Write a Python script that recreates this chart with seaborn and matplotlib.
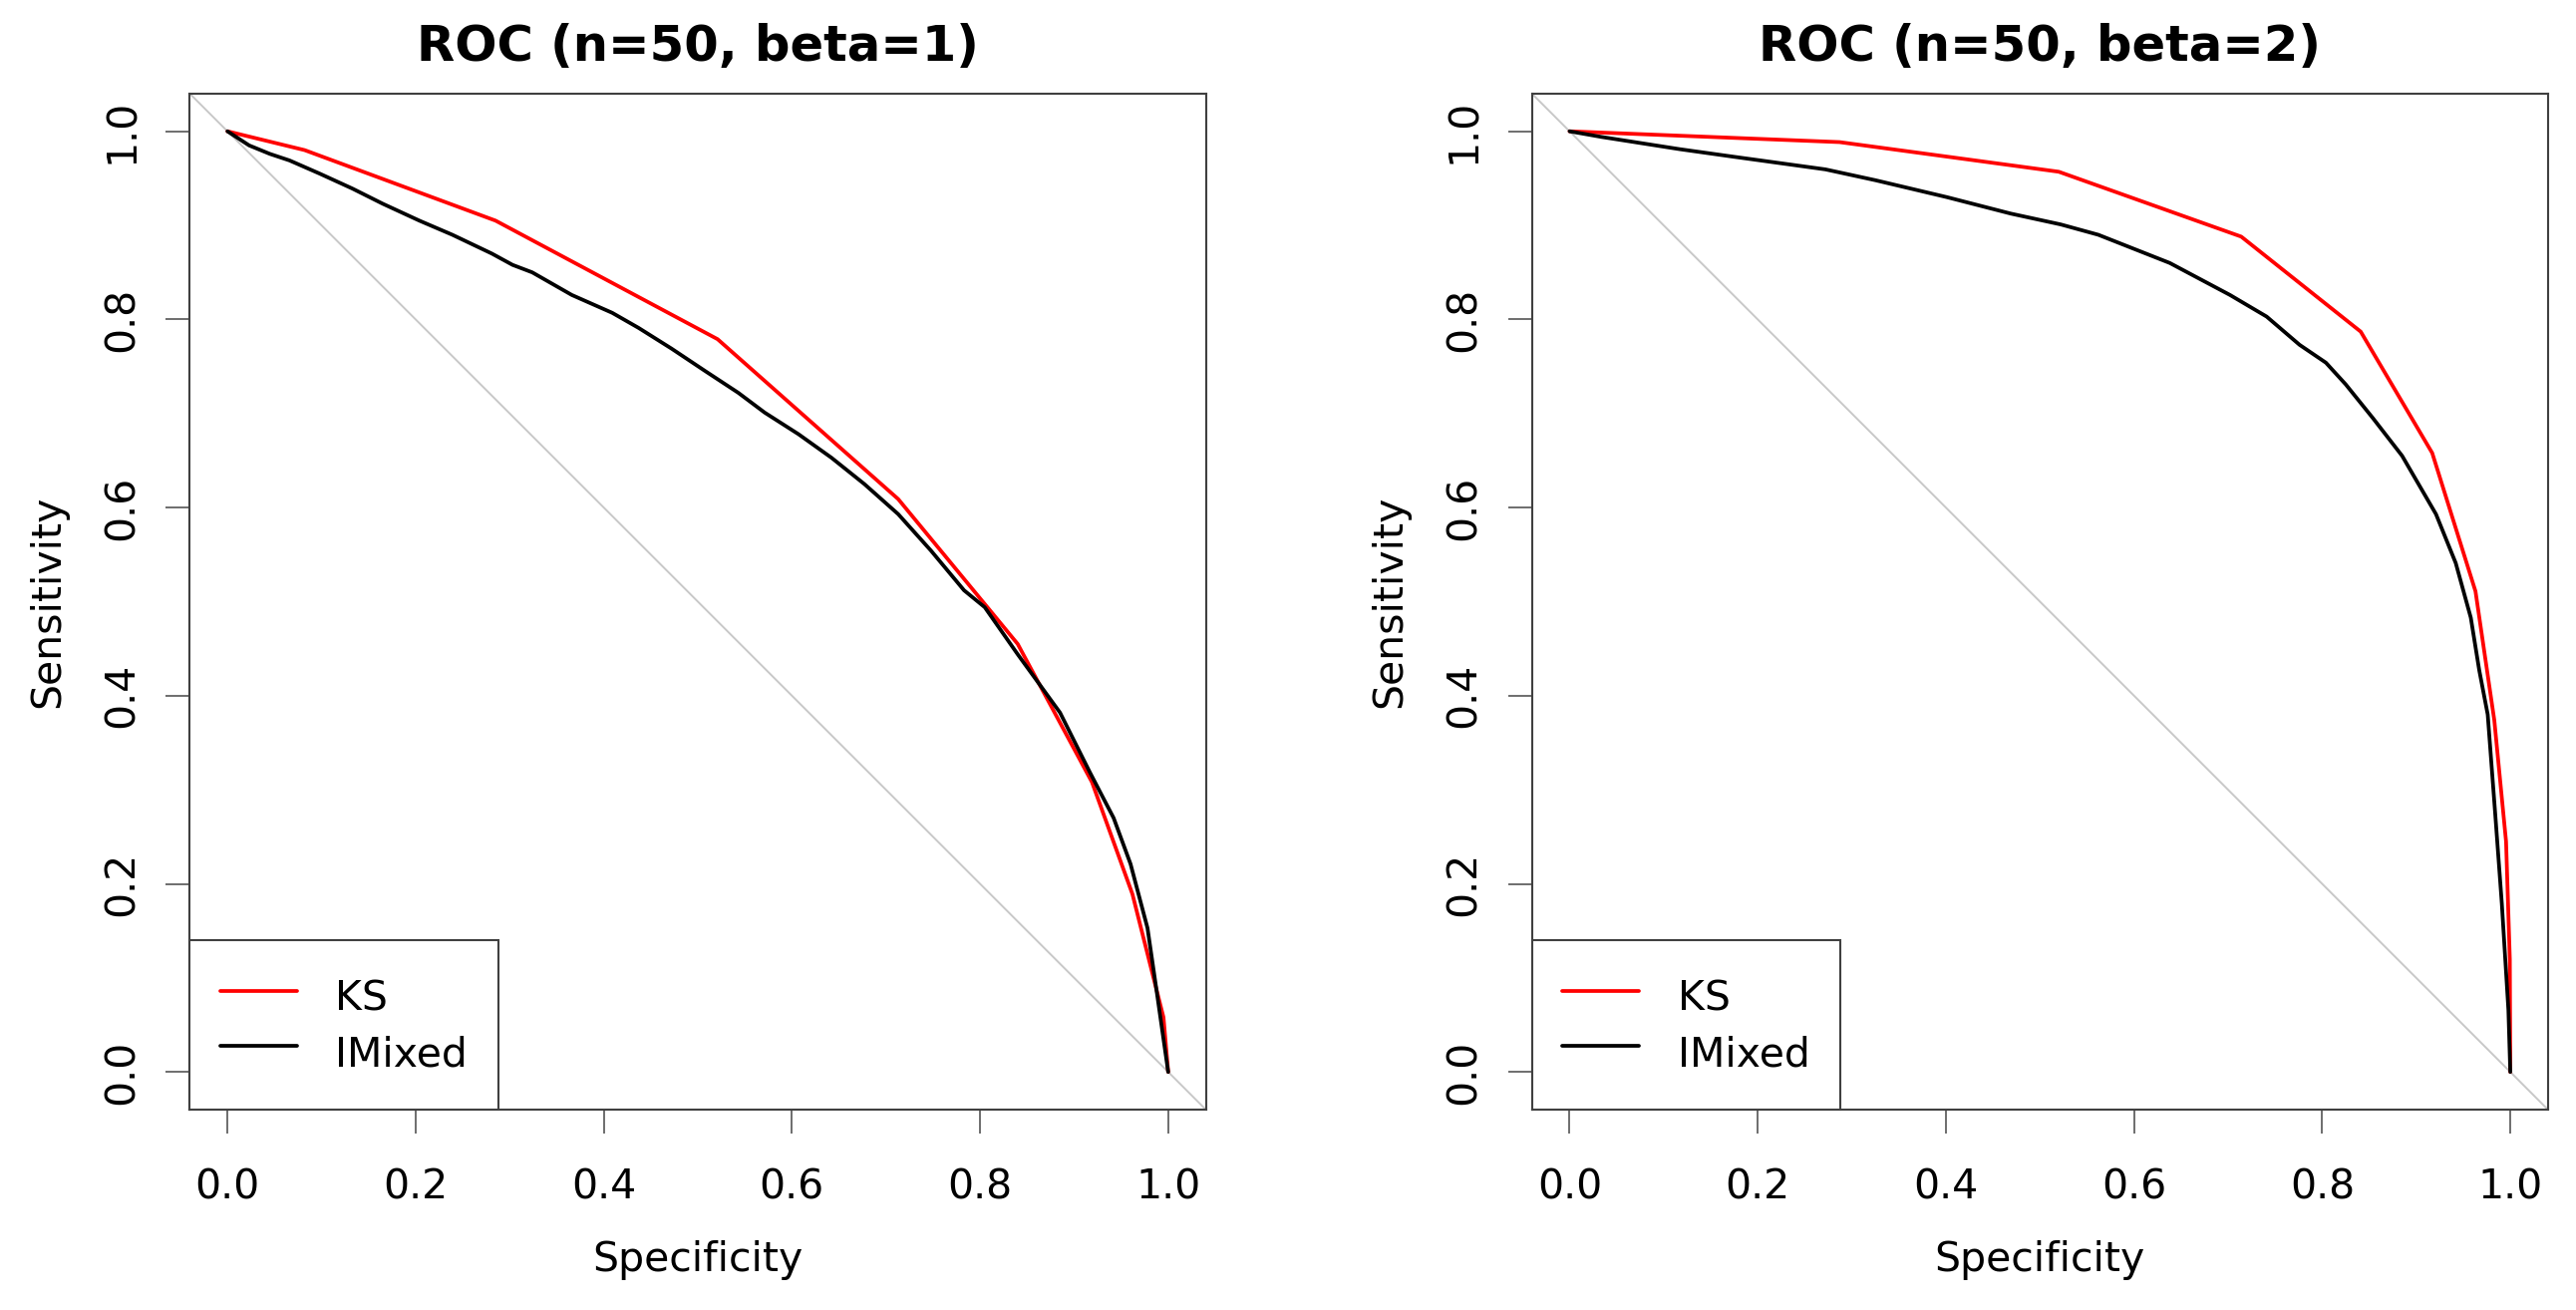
import matplotlib
matplotlib.use("Agg")
import matplotlib.pyplot as plt
import seaborn as sns

# ROC curves (specificity, sensitivity)
spec_ks_b1 = [0.0, 0.082, 0.285, 0.521, 0.713, 0.840, 0.919, 0.962, 0.995, 1.0]
sens_ks_b1 = [1.0, 0.980, 0.905, 0.779, 0.609, 0.455, 0.308, 0.189, 0.058, 0.0]

spec_im_b1 = [0.0, 0.023, 0.045, 0.066, 0.098, 0.133, 0.165, 0.204, 0.239, 0.281,
              0.303, 0.324, 0.366, 0.409, 0.437, 0.472, 0.508, 0.543, 0.571, 0.607,
              0.642, 0.677, 0.713, 0.748, 0.783, 0.805, 0.840, 0.885, 0.917, 0.942,
              0.960, 0.978, 0.988, 1.0]
sens_im_b1 = [1.0, 0.985, 0.976, 0.969, 0.955, 0.939, 0.923, 0.905, 0.890, 0.870,
              0.858, 0.850, 0.826, 0.807, 0.791, 0.769, 0.745, 0.722, 0.701, 0.678,
              0.653, 0.625, 0.593, 0.554, 0.512, 0.494, 0.444, 0.382, 0.318, 0.270,
              0.221, 0.153, 0.084, 0.0]

spec_ks_b2 = [0.0, 0.287, 0.520, 0.714, 0.841, 0.917, 0.963, 0.983, 0.9955, 0.9995, 1.0]
sens_ks_b2 = [1.0, 0.9885, 0.957, 0.888, 0.787, 0.658, 0.511, 0.374, 0.245, 0.12, 0.0]

spec_im_b2 = [0.0, 0.034, 0.117, 0.174, 0.272, 0.325, 0.401, 0.469, 0.522, 0.562,
              0.638, 0.702, 0.741, 0.776, 0.804, 0.825, 0.854, 0.885, 0.921, 0.942,
              0.958, 0.967, 0.976, 0.984, 0.991, 0.998, 1.0]
sens_im_b2 = [1.0, 0.994, 0.981, 0.973, 0.9595, 0.948, 0.930, 0.9125, 0.901, 0.890,
              0.860, 0.826, 0.803, 0.773, 0.754, 0.731, 0.695, 0.655, 0.593, 0.541,
              0.483, 0.427, 0.380, 0.274, 0.179, 0.066, 0.0]

titles = ["ROC (n=50, beta=1)", "ROC (n=50, beta=2)"]
ticks = [0.0, 0.2, 0.4, 0.6, 0.8, 1.0]
tick_labels = ["0.0", "0.2", "0.4", "0.6", "0.8", "1.0"]

sns.set_style("white")
plt.rcParams['font.family'] = ['DejaVu Sans']
plt.rcParams['text.color'] = 'black'
plt.rcParams['axes.labelcolor'] = 'black'
plt.rcParams['xtick.labelcolor'] = 'black'
plt.rcParams['ytick.labelcolor'] = 'black'

fig = plt.figure(figsize=(25.84, 13.14), dpi=100)
ax1 = fig.add_axes([0.0737, 0.1530, 0.3944, 0.7755])
ax2 = fig.add_axes([0.5947, 0.1530, 0.3944, 0.7755])

panels = [
    (ax1, titles[0], spec_ks_b1, sens_ks_b1, spec_im_b1, sens_im_b1),
    (ax2, titles[1], spec_ks_b2, sens_ks_b2, spec_im_b2, sens_im_b2),
]

for ax, title, sk, yk, si, yi in panels:
    ax.set_xlim(-0.04, 1.04)
    ax.set_ylim(-0.04, 1.04)
    # identity line, corner to corner
    ax.axline((0, 1), slope=-1, color="#c8c8c8", lw=1.4, zorder=1)

    sns.lineplot(x=sk, y=yk, ax=ax, color="#ff0000", lw=2.7, sort=False,
                 estimator=None, label="KS", zorder=3)
    sns.lineplot(x=si, y=yi, ax=ax, color="black", lw=2.7, sort=False,
                 estimator=None, label="IMixed", zorder=4)

    ax.set_xticks(ticks)
    ax.set_xticklabels(tick_labels)
    ax.set_yticks(ticks)
    ax.set_yticklabels(tick_labels, rotation=90, va="center")
    ax.tick_params(axis="both", which="major", direction="out", length=17,
                   width=1.2, color="#555555", labelsize=29.5, left=True, bottom=True)
    ax.tick_params(axis="x", pad=25.5)
    ax.tick_params(axis="y", pad=17.5)

    for sp in ax.spines.values():
        sp.set_visible(True)
        sp.set_color("#404040")
        sp.set_linewidth(1.5)

    ax.set_xlabel("Specificity", fontsize=29.5, labelpad=23)
    ax.set_ylabel("Sensitivity", fontsize=29.5, labelpad=25)
    ax.set_title(title, fontsize=35.7, fontweight="bold", pad=23.8)

    leg = ax.legend(loc="lower left", borderaxespad=0, fancybox=False, frameon=True,
                    edgecolor="#404040", framealpha=1, fontsize=29.5,
                    handlelength=1.88, handletextpad=0.93, borderpad=0.75,
                    labelspacing=0.08, handleheight=1.6)
    leg.get_frame().set_linewidth(1.5)
    leg.set_zorder(5)

fig.savefig("out.png", dpi=100)
